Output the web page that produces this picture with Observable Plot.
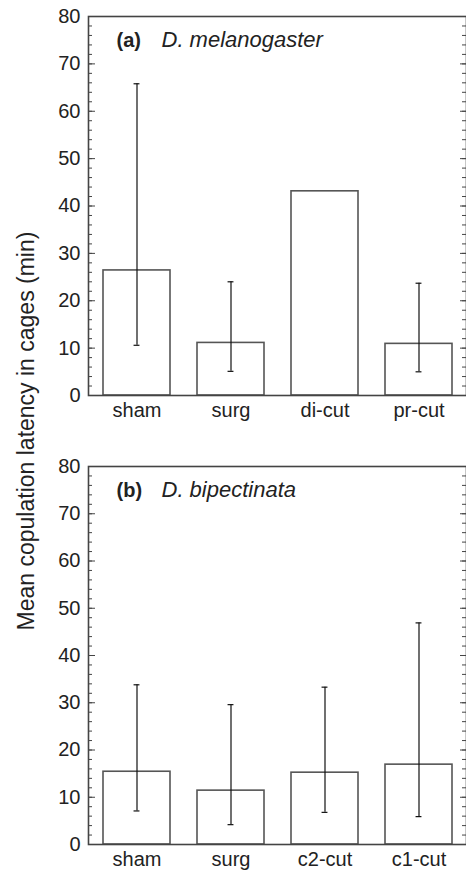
<!DOCTYPE html>
<html><head><meta charset="utf-8">
<script src="https://cdn.jsdelivr.net/npm/d3@7"></script>
<script src="https://cdn.jsdelivr.net/npm/@observablehq/plot@0.6"></script>
<style>
body{margin:0;background:#fff;font-family:Arial,"Liberation Sans",sans-serif}
#wrap{position:relative;width:466px;height:873px;overflow:hidden}
#ylab{position:absolute;left:26px;top:431px;transform:translate(-50%,-50%) rotate(-90deg);white-space:nowrap;font-size:23px;color:#222}
svg{display:block}
</style></head><body><div id="wrap"><div id="charts"></div><div id="ylab">Mean copulation latency in cages (min)</div></div>
<script>
const catsA = ["sham", "surg", "di-cut", "pr-cut"];
const meanA = [26.4, 11.1, 43.1, 10.9];
const lowA  = [10.6, 5.1, null, 5.0];
const highA = [65.8, 24.0, null, 23.7];

const catsB = ["sham", "surg", "c2-cut", "c1-cut"];
const meanB = [15.4, 11.4, 15.2, 16.9];
const lowB  = [7.1, 4.2, 6.8, 5.9];
const highB = [33.8, 29.6, 33.3, 46.9];

const majorTicks = [0, 10, 20, 30, 40, 50, 60, 70, 80];
const minorTicks = d3.ticks(0, 80, 40);

function panel(cats, mean, low, high, tag, species, height, mt, mb) {
  const W = 466, ML = 88, MR = 0;
  const pw = W - ML - MR;
  const rows = cats.map((c, i) => ({c, m: mean[i], lo: low[i], hi: high[i]}));
  const errs = rows.filter(d => d.lo != null);
  const bw = pw / 4 * 0.71;
  const capIn = (bw - 6) / 2;
  const font = "Arial, 'Liberation Sans', sans-serif";
  return Plot.plot({
    width: W, height, marginLeft: ML, marginRight: MR, marginTop: mt, marginBottom: mb,
    style: {fontFamily: font, fontSize: "20px", color: "#222", background: "#fff", overflow: "visible"},
    x: {domain: cats, paddingInner: 0.29, paddingOuter: 0.145, label: null},
    y: {domain: [0, 80], label: null},
    marks: [
      Plot.barY(rows, {x: "c", y: "m", fill: "white", stroke: "#555", strokeWidth: 1.6}),
      Plot.ruleX(errs, {x: "c", y1: "lo", y2: "hi", stroke: "#111", strokeWidth: 1.2}),
      Plot.tickY(errs, {x: "c", y: "lo", stroke: "#111", strokeWidth: 1.2, insetLeft: capIn, insetRight: capIn}),
      Plot.tickY(errs, {x: "c", y: "hi", stroke: "#111", strokeWidth: 1.2, insetLeft: capIn, insetRight: capIn}),
      Plot.ruleY(minorTicks, {y: d => d, stroke: "#444", insetRight: pw - 4}),
      Plot.ruleY(majorTicks, {y: d => d, stroke: "#444", insetRight: pw - 7}),
      Plot.ruleY(minorTicks, {y: d => d, stroke: "#444", insetLeft: pw - 4}),
      Plot.ruleY(majorTicks, {y: d => d, stroke: "#444", insetLeft: pw - 6}),
      Plot.frame({stroke: "#444", strokeWidth: 1.6}),
      Plot.axisY({ticks: majorTicks, tickSize: 0, tickPadding: 8, fontSize: 20}),
      Plot.axisX({tickSize: 0, tickPadding: 7, fontSize: 20}),
      Plot.text([tag], {text: d => d, frameAnchor: "top-left", dx: 28, dy: 30, lineAnchor: "bottom", fontWeight: "bold", fontSize: 20}),
      Plot.text([species], {text: d => d, frameAnchor: "top-left", dx: 73, dy: 30, lineAnchor: "bottom", fontStyle: "italic", fontSize: 22})
    ]
  });
}

const host = document.getElementById("charts");
host.append(panel(catsA, meanA, lowA, highA, "(a)", "D. melanogaster", 436, 16, 41));
host.append(panel(catsB, meanB, lowB, highB, "(b)", "D. bipectinata", 437, 30, 29));
</script></body></html>
